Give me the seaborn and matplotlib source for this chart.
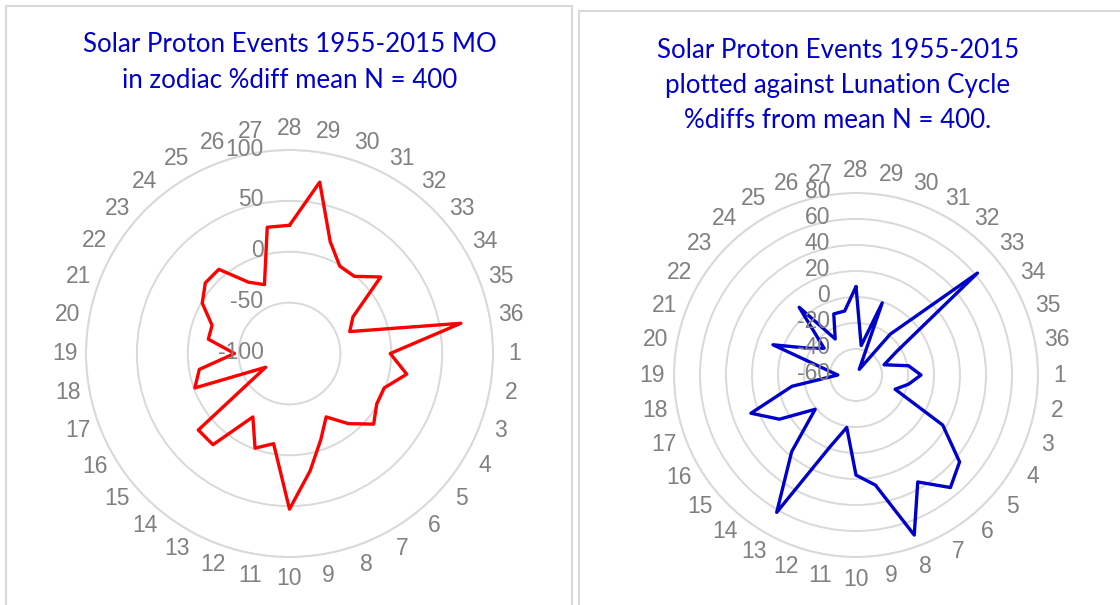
import numpy as np
import pandas as pd
import matplotlib
matplotlib.use("Agg")
import matplotlib.pyplot as plt
import seaborn as sns
from matplotlib.patches import Rectangle

# categories run clockwise from the top: 28..36 then 1..27
categories = [str(c) for c in list(range(28, 37)) + list(range(1, 28))]

# % difference from mean, MO in zodiac (left chart)
zodiac_pct = [26, 71, 17, -1, -1, 17, -28, -37, 71,
              -1, 17, -1, -1, 8, -10, -28, -10, 17,
              53, -10, -1, -28, 17, 17, -73, -1, -10,
              -46, -19, -19, -1, 8, 8, -19, -28, 26]

# % difference from mean, lunation cycle (right chart)
lunation_pct = [8, -37, -1, -55, -19, 62, -24, -37, -19,
                -10, -19, -28, 17, 44, 53, 35, 71, 26,
                17, -19, -1, 62, 17, -19, 8, 26, -10,
                -46, -37, 8, -19, -28, 8, -28, -10, -10]

left_title = ["Solar Proton Events 1955-2015 MO",
              "in zodiac %diff mean N = 400"]
right_title = ["Solar Proton Events 1955-2015",
               "plotted against Lunation Cycle",
               "%diffs from mean N = 400."]

GRID = "#D9D9D9"
TXT = "#808080"
BLUE = "#0000CC"
LABEL_FONT = ["Liberation Sans", "DejaVu Sans"]
TITLE_FONT = ["Lato", "DejaVu Sans"]

sns.set_theme(style="white")
plt.rcParams["font.family"] = LABEL_FONT


def radar(ax, values, color, rmin, rmax, step, label_scale):
    theta = np.deg2rad(np.arange(len(categories)) * 360 / len(categories))
    df = pd.DataFrame({
        "theta": np.append(theta, theta[0] + 2 * np.pi),
        "value": values + [values[0]],
    })
    sns.lineplot(data=df, x="theta", y="value", sort=False, estimator=None,
                 ax=ax, color=color, linewidth=2.4, zorder=3)
    ax.set_theta_zero_location("N")
    ax.set_theta_direction(-1)
    ax.set_ylim(rmin, rmax)
    ax.set_xlabel("")
    ax.set_ylabel("")
    ax.set_xticks([])
    ax.set_yticks(np.arange(rmin + step, rmax + 1, step))
    ax.set_yticklabels([])
    ax.yaxis.grid(True, color=GRID, linewidth=1.4)
    ax.spines["polar"].set_color(GRID)
    ax.spines["polar"].set_linewidth(1.4)
    ax.set_facecolor("none")

    for v in np.arange(rmin, rmax + 1, step):
        ax.annotate(str(v), xy=(0, v), xytext=(-26, 1), textcoords="offset pixels",
                    ha="right", va="center", color=TXT, fontsize=16.5,
                    family=LABEL_FONT, annotation_clip=False, zorder=5)

    label_r = rmin + (rmax - rmin) * label_scale
    for t, c in zip(theta, categories):
        ax.text(t, label_r, c, ha="center", va="center", color=TXT,
                fontsize=16.5, family=LABEL_FONT)


fig = plt.figure(figsize=(11.2, 6.05), dpi=100)
W, H = 1120, 605

# panel frames
fig.add_artist(Rectangle((6 / W, -0.05), 566 / W, 0.05 + (H - 6) / H,
                         transform=fig.transFigure, fill=False,
                         edgecolor=GRID, linewidth=1.5))
fig.add_artist(Rectangle((579 / W, -0.05), 0.5, 0.05 + (H - 11) / H,
                         transform=fig.transFigure, fill=False,
                         edgecolor=GRID, linewidth=1.5))

ax1 = fig.add_axes([86 / W, 48 / H, 407 / W, 407 / H], projection="polar")
radar(ax1, zodiac_pct, "#FF0000", -100, 100, 50, 225 / 203.5)

ax2 = fig.add_axes([674 / W, 48 / H, 364 / W, 364 / H], projection="polar")
radar(ax2, lunation_pct, BLUE, -60, 80, 20, 204 / 182)

for i, line in enumerate(left_title):
    fig.text(290 / W, 1 - (45 + 35 * i) / H, line, ha="center", va="center",
             color=BLUE, fontsize=18.6, family=TITLE_FONT)
for i, line in enumerate(right_title):
    fig.text(838 / W, 1 - (50 + 35 * i) / H, line, ha="center", va="center",
             color=BLUE, fontsize=18.6, family=TITLE_FONT)

fig.savefig("out.png", dpi=100)
